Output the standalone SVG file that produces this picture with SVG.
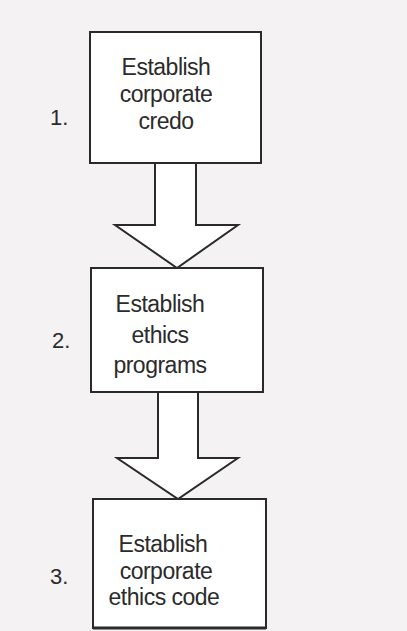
<svg xmlns="http://www.w3.org/2000/svg" width="407" height="631" viewBox="0 0 407 631">
<style>
.box{fill:#ffffff;stroke:#2a2a2a;stroke-width:2}
.arrow{fill:#ffffff;stroke:#2a2a2a;stroke-width:2;stroke-linejoin:miter}
.t{font-family:"Liberation Sans",Arial,sans-serif;font-size:23px;letter-spacing:-0.5px;fill:#2b2b2b;text-anchor:middle}
.n{font-family:"Liberation Sans",Arial,sans-serif;font-size:22px;fill:#2b2b2b}
</style>
<rect x="0" y="0" width="407" height="631" fill="#f4f2f2"/>
<g id="connectors">
<polygon class="arrow" points="155,163 155,225 115,225 177,268 238,225 196,225 196,163"/>
<polygon class="arrow" points="158,392 158,458 117,458 178,499 238,458 198,458 198,392"/>
</g>
<g id="node1">
<rect class="box" x="90" y="32" width="171" height="131"/>
<text class="t" x="166" y="75">Establish</text>
<text class="t" x="166" y="102">corporate</text>
<text class="t" x="166" y="129">credo</text>
<text class="n" x="50" y="125">1.</text>
</g>
<g id="node2">
<rect class="box" x="91" y="268" width="172" height="124"/>
<text class="t" x="160" y="312">Establish</text>
<text class="t" x="160" y="343">ethics</text>
<text class="t" x="160" y="373">programs</text>
<text class="n" x="52" y="348">2.</text>
</g>
<g id="node3">
<rect class="box" x="93" y="499" width="173" height="129"/>
<line x1="93" y1="628" x2="266" y2="628" stroke="#2a2a2a" stroke-width="3"/>
<text class="t" x="163" y="552">Establish</text>
<text class="t" x="166" y="579">corporate</text>
<text class="t" x="164" y="605">ethics code</text>
<text class="n" x="50" y="584">3.</text>
</g>
</svg>
